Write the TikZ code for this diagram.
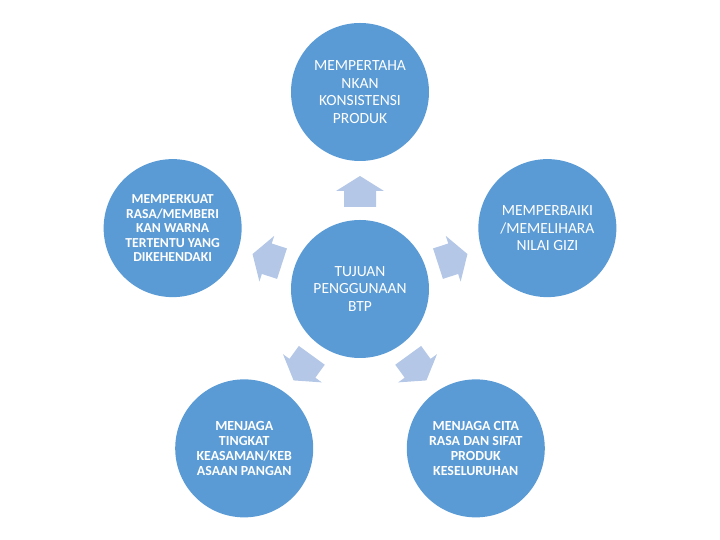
\documentclass[tikz,border=0pt]{standalone}
\usepackage{fontspec}
\setmainfont{Carlito}
\usetikzlibrary{positioning}

\definecolor{bulatbiru}{RGB}{91,155,213}
\definecolor{panahbiru}{RGB}{180,199,231}

\tikzset{
  bulat/.style={circle, fill=bulatbiru, text=white, inner sep=0pt,
    minimum size=138pt, align=center},
  tipis/.style={font=\fontsize{15.5}{17.5}\selectfont},
  tebal/.style={font=\fontsize{13.7}{14.5}\selectfont\bfseries},
  tebalb/.style={font=\fontsize{13.9}{15.2}\selectfont\bfseries},
  panah/.style={fill=panahbiru, draw=none}
}

\begin{document}
\begin{tikzpicture}[x=1pt, y=1pt]
  \useasboundingbox (0,0) rectangle (720,540);

  % Center circle
  \node[bulat, tipis] (tujuan) at (360,251) {TUJUAN\\PENGGUNAAN\\BTP};

  % Outer circles
  \node[bulat, tipis] (konsistensi) at ([shift={(90:197)}]tujuan.center)
    {MEMPERTAHA\\NKAN\\KONSISTENSI\\PRODUK};
  \node[bulat, tebal] (rasa) at ([shift={(162:197)}]tujuan.center)
    {MEMPERKUAT\\RASA/MEMBERI\\KAN WARNA\\TERTENTU YANG\\DIKEHENDAKI};
  \node[bulat, tipis] (gizi) at ([shift={(18:197)}]tujuan.center)
    {MEMPERBAIKI\\/MEMELIHARA\\NILAI GIZI};
  \node[bulat, tebalb] (asam) at ([shift={(234:197)}]tujuan.center)
    {MENJAGA\\TINGKAT\\KEASAMAN/KEB\\ASAAN PANGAN};
  \node[bulat, tebalb] (citarasa) at ([shift={(306:197)}]tujuan.center)
    {MENJAGA CITA\\RASA DAN SIFAT\\PRODUK\\KESELURUHAN};

  % Block arrows pointing outward
  \foreach \a in {90,162,18,234,306} {
    \begin{scope}[shift={(tujuan.center)}, rotate=\a]
      \fill[panah] (82,-16) -- (98,-16) -- (98,-24) -- (113,0)
        -- (98,24) -- (98,16) -- (82,16) -- cycle;
    \end{scope}
  }
\end{tikzpicture}
\end{document}
